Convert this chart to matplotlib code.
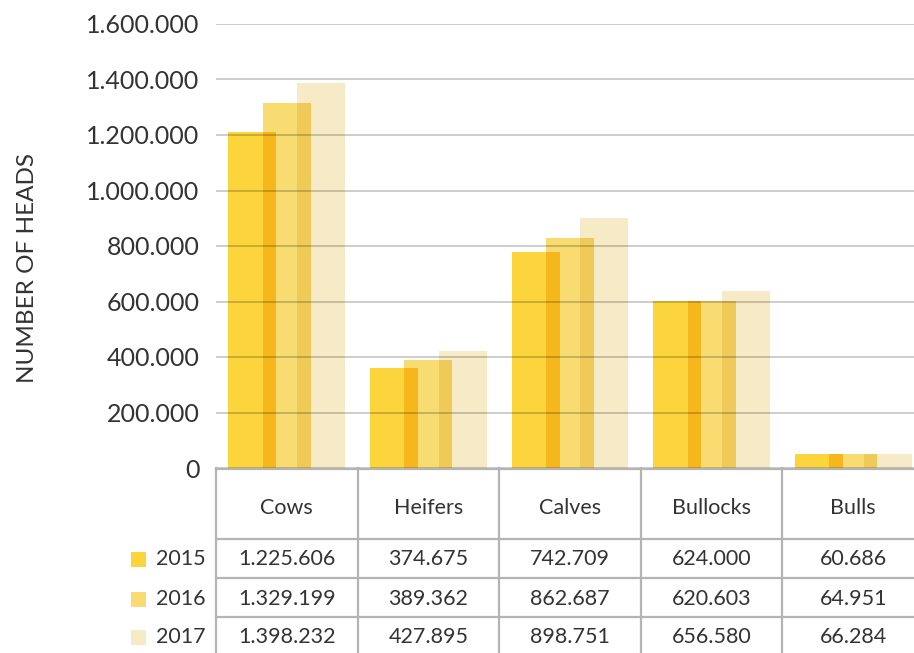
import matplotlib
matplotlib.use("Agg")
import matplotlib.pyplot as plt
from matplotlib.patches import Rectangle
from matplotlib.ticker import FuncFormatter
from matplotlib.transforms import blended_transform_factory

plt.rcParams['font.family'] = ['Lato', 'DejaVu Sans']

categories = ['Cows', 'Heifers', 'Calves', 'Bullocks', 'Bulls']
years = ['2015', '2016', '2017']

# bar heights as drawn in the picture
bars_2015 = [1210000, 360000, 778000, 602000, 50000]
bars_2016 = [1315000, 389000, 829000, 602000, 50000]
bars_2017 = [1387000, 422000, 901000, 638000, 50000]

# values printed in the data table
table_2015 = ['1.225.606', '374.675', '742.709', '624.000', '60.686']
table_2016 = ['1.329.199', '389.362', '862.687', '620.603', '64.951']
table_2017 = ['1.398.232', '427.895', '898.751', '656.580', '66.284']

colors = [(252, 212, 60), (248, 220, 114), (247, 234, 198)]


def rgb(c):
    return tuple(v / 255 for v in c)


def multiply(c1, c2):
    return tuple(a * b / 255 for a, b in zip(c1, c2))


W, H = 914, 653
fig = plt.figure(figsize=(W / 100, H / 100), dpi=100)

ax = fig.add_axes([216 / W, 185 / H, 708 / W, 444 / H])
ax.set_xlim(-0.5, 4.5)
ax.set_ylim(0, 1600000)

off = 0.2436
width = 0.339
series = [bars_2015, bars_2016, bars_2017]
x = list(range(len(categories)))

for k, vals in enumerate(series):
    ax.bar([i + (k - 1) * off for i in x], vals, width=width,
           color=rgb(colors[k]), zorder=1, linewidth=0)

# darker overlaps (multiply look)
for k in range(2):
    a, b = series[k], series[k + 1]
    for i in x:
        x0 = i + k * off - width / 2
        x1 = i + (k - 1) * off + width / 2
        ax.bar((x0 + x1) / 2, min(a[i], b[i]), width=x1 - x0,
               color=rgb(multiply(colors[k], colors[k + 1])), zorder=1.5, linewidth=0)

ax.set_yticks(range(0, 1600001, 200000))
ax.yaxis.set_major_formatter(FuncFormatter(lambda v, p: f"{int(v):,}".replace(',', '.')))
ax.tick_params(axis='y', length=0, pad=12, labelsize=18, labelcolor='#333333')
ax.set_xticks([])
ax.grid(axis='y', color='black', alpha=0.25, linewidth=1.1)
ax.set_axisbelow(False)
for s in ax.spines.values():
    s.set_visible(False)

fig.text(28 / W, 1 - 268 / H, 'NUMBER OF HEADS', rotation=90, ha='center', va='center',
         fontsize=17.5, color='#333333')

# data table below the bars
tax = fig.add_axes([216 / W, 0, 708 / W, 185 / H])
tax.set_xlim(-0.5, 4.5)
tax.set_ylim(185, 0)
tax.axis('off')
line_kw = dict(color='#b4b4b4', linewidth=1.6, clip_on=False)
for yb in [0.5, 71, 110, 148.5]:
    tax.plot([-0.5, 4.5], [yb, yb], **line_kw)
for i in range(len(categories)):
    tax.plot([i - 0.5, i - 0.5], [0, 190], **line_kw)

text_kw = dict(ha='center', va='center', fontsize=15.5, color='#333333')
for i, cat in enumerate(categories):
    tax.text(i, 40, cat, **text_kw)
row_y = [91, 131, 169]
for r, row in enumerate([table_2015, table_2016, table_2017]):
    for i, val in enumerate(row):
        tax.text(i, row_y[r], val, **text_kw)

trans = blended_transform_factory(fig.transFigure, tax.transData)
for r, yr in enumerate(years):
    tax.add_patch(Rectangle((131 / W, row_y[r] - 7.5), 15 / W, 15, transform=trans,
                            color=rgb(colors[r]), clip_on=False, linewidth=0))
    tax.text(156 / W, row_y[r], yr, transform=trans, ha='left', va='center',
             fontsize=15.5, color='#333333')

fig.savefig('out.png', dpi=100)
